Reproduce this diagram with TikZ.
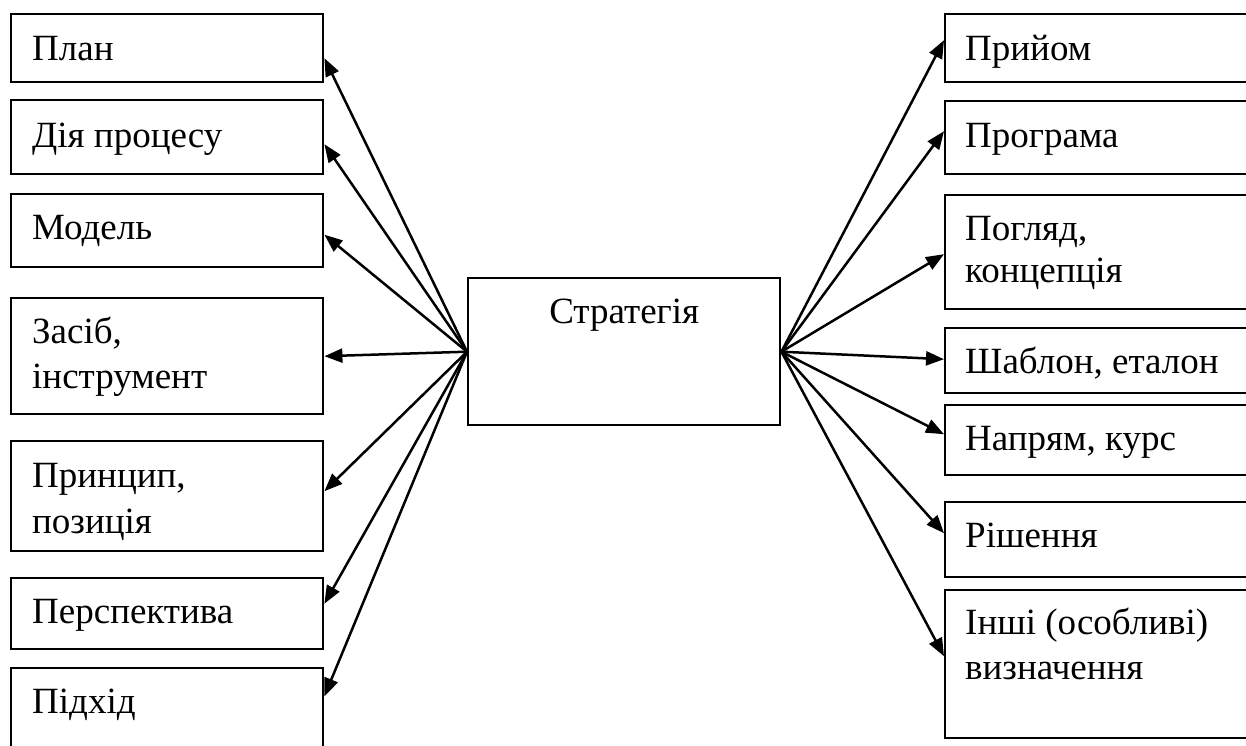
\documentclass[tikz,border=0pt]{standalone}
\usepackage{fontspec}
\setmainfont{Liberation Serif}
\usetikzlibrary{arrows.meta,calc}
\begin{document}
\begin{tikzpicture}[x=1pt,y=-1pt,
  box/.style={draw, line width=2.4pt, inner sep=0pt, anchor=north west},
  lbox/.style={box, minimum width=312pt},
  rbox/.style={box, minimum width=330pt},
  txt/.style={inner sep=0pt, anchor=base west, font=\fontsize{37}{44}\selectfont},
  arr/.style={line width=2.5pt, -{Triangle[length=18pt,width=14pt]}}]
\useasboundingbox (0,0) rectangle (1246,745);
\clip (0,0) rectangle (1246,745);
\fill[white] (0,0) rectangle (1246,745);
% left boxes
\node[lbox, minimum height=68pt] (plan) at (10,13) {};
\node[lbox, minimum height=74pt] (diia) at (10,99) {};
\node[lbox, minimum height=73pt] (model) at (10,193) {};
\node[lbox, minimum height=116pt] (zasib) at (10,297) {};
\node[lbox, minimum height=110pt] (pryntsyp) at (10,440) {};
\node[lbox, minimum height=71pt] (persp) at (10,577) {};
\node[lbox, minimum height=100pt] (pidkhid) at (10,667) {};
% right boxes
\node[rbox, minimum height=68pt] (pryiom) at (944,13) {};
\node[rbox, minimum height=73pt] (prohrama) at (944,100) {};
\node[rbox, minimum height=114pt] (pohliad) at (944,194) {};
\node[rbox, minimum height=65pt] (shablon) at (944,327) {};
\node[rbox, minimum height=70pt] (napriam) at (944,404) {};
\node[rbox, minimum height=75pt] (rishennia) at (944,501) {};
\node[rbox, minimum height=148pt] (inshi) at (944,589) {};
% centre
\node[box, minimum width=312pt, minimum height=147pt] (strat) at (467,277) {};
% texts
\node[txt] (tplan) at ($(plan.north west)+(22,47)$) {План};
\node[txt] (tdiia) at ($(diia.north west)+(22,48)$) {Дія процесу};
\node[txt] (tmodel) at ($(model.north west)+(22,46)$) {Модель};
\node[txt] (tzasib) at ($(zasib.north west)+(22,46)$) {Засіб,};
\node[txt] (tzasib2) at ($(tzasib.base west)+(0,45)$) {інструмент};
\node[txt] (tpryn) at ($(pryntsyp.north west)+(22,47)$) {Принцип,};
\node[txt] (tpryn2) at ($(tpryn.base west)+(0,46)$) {позиція};
\node[txt] (tpersp) at ($(persp.north west)+(22,46)$) {Перспектива};
\node[txt] (tpidkhid) at ($(pidkhid.north west)+(22,46)$) {Підхід};
\node[txt] (tpryiom) at ($(pryiom.north west)+(21,47)$) {Прийом};
\node[txt] (tprohr) at ($(prohrama.north west)+(21,47)$) {Програма};
\node[txt] (tpohl) at ($(pohliad.north west)+(21,46)$) {Погляд,};
\node[txt] (tpohl2) at ($(tpohl.base west)+(0,42)$) {концепція};
\node[txt] (tshabl) at ($(shablon.north west)+(21,46)$) {Шаблон, еталон};
\node[txt] (tnapr) at ($(napriam.north west)+(21,46)$) {Напрям, курс};
\node[txt] (trish) at ($(rishennia.north west)+(21,46)$) {Рішення};
\node[txt] (tinshi) at ($(inshi.north west)+(21,45)$) {Інші (особливі)};
\node[txt] (tinshi2) at ($(tinshi.base west)+(0,45)$) {визначення};
\node[txt, anchor=base] (tstrat) at ($(strat.north)+(0,46)$) {Стратегія};
% arrows left
\draw[arr] (strat.west) -- ([yshift=-10pt]plan.east);
\draw[arr] (strat.west) -- ([yshift=-7pt]diia.east);
\draw[arr] (strat.west) -- ([yshift=-4pt]model.east);
\draw[arr] (strat.west) -- (zasib.east);
\draw[arr] (strat.west) -- ([yshift=5pt]pryntsyp.east);
\draw[arr] (strat.west) -- ([yshift=10pt]persp.east);
\draw[arr] (strat.west) -- ([yshift=22pt]pidkhid.east);
% arrows right
\draw[arr] (strat.east) -- ([yshift=8pt]pryiom.west);
\draw[arr] (strat.east) -- ([yshift=6.5pt]prohrama.west);
\draw[arr] (strat.east) -- ([yshift=-2pt]pohliad.west);
\draw[arr] (strat.east) -- ([yshift=1.5pt]shablon.west);
\draw[arr] (strat.east) -- ([yshift=6pt]napriam.west);
\draw[arr] (strat.east) -- ([yshift=6.5pt]rishennia.west);
\draw[arr] (strat.east) -- ([yshift=8pt]inshi.west);
\end{tikzpicture}
\end{document}
